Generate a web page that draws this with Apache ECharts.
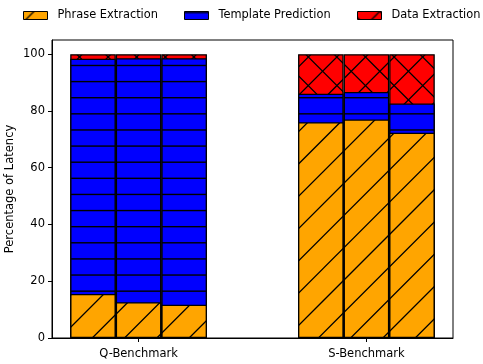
<!DOCTYPE html>
<html><head><meta charset="utf-8">
<script src="https://cdn.jsdelivr.net/npm/echarts@6/dist/echarts.min.js"></script>
<style>html,body{margin:0;padding:0;background:#fff}#c{width:483px;height:364px}</style>
</head><body><div id="c"></div>
<script>
// ---- data ----
const groups = ['Q-Benchmark', 'S-Benchmark'];
const groupPos = [0, 1];
const barOffsets = [-0.2, 0, 0.2];
const components = ['Phrase Extraction', 'Template Prediction', 'Data Extraction'];
const phraseQ = [15.5, 12.6, 11.7];
const templateQ = [82.9, 86.0, 86.9];
const dataQ = [1.6, 1.4, 1.4];
const phraseS = [76.0, 77.0, 72.3];
const templateS = [10.1, 9.7, 10.3];
const dataS = [13.9, 13.3, 17.4];
const yTicks = [0, 20, 40, 60, 80, 100];

// ---- hatch patterns ----
function makeTile(w, h, bg, draw) {
  const c = document.createElement('canvas');
  c.width = w; c.height = h;
  const g = c.getContext('2d');
  g.fillStyle = bg; g.fillRect(0, 0, w, h);
  g.strokeStyle = '#000'; g.fillStyle = '#000'; g.lineWidth = 1.3;
  draw(g, w, h);
  return { image: c, repeat: 'repeat' };
}
function diagUp(g, S, P, c0) { // lines x+y = c
  g.beginPath();
  for (let k = -2; k <= Math.ceil(2 * S / P) + 2; k++) {
    const c = c0 + k * P;
    g.moveTo(c + 10, -10); g.lineTo(-10, c + 10);
  }
  g.stroke();
}
function diagDown(g, S, P, d0) { // lines x-y = d
  g.beginPath();
  for (let k = -Math.ceil(S / P) - 2; k <= Math.ceil(S / P) + 2; k++) {
    const d = d0 + k * P;
    g.moveTo(-10, -10 - d); g.lineTo(S + 10, S + 10 - d);
  }
  g.stroke();
}
const P1 = 32.3, S1 = 323;
const orangePat = makeTile(S1, S1, '#ffa500', (g) => diagUp(g, S1, P1, 10.3));
const P2 = 16.12, S2 = 403;
const bluePat = makeTile(8, S2, '#0000ff', (g) => {
  for (let k = 0; k < 25; k++) g.fillRect(0, 1 + k * P2 - 0.7, 8, 1.4);
});
const P3 = 28.6, S3 = 286;
const redPat = makeTile(S3, S3, '#ff0000', (g) => { diagUp(g, S3, P3, 22.1); diagDown(g, S3, P3, 22.5); });

// cumulative tops built from the arrays
const vals = {
  'Phrase Extraction': [phraseQ, phraseS],
  'Template Prediction': [templateQ, templateS],
  'Data Extraction': [dataQ, dataS]
};
const pats = { 'Phrase Extraction': orangePat, 'Template Prediction': bluePat, 'Data Extraction': redPat };

const series = [];
// draw from top segment down so lower segments overlay (stacked look)
for (let ci = components.length - 1; ci >= 0; ci--) {
  const name = components[ci];
  for (let bi = 0; bi < 3; bi++) {
    const data = groupPos.map((gp, gi) => {
      let top = 0;
      for (let j = 0; j <= ci; j++) top += vals[components[j]][gi][bi];
      return [gp + barOffsets[bi], +top.toFixed(3)];
    });
    series.push({
      type: 'bar', name: name, data: data,
      barWidth: 45.6, barGap: '-100%',
      itemStyle: { color: pats[name], borderColor: '#000', borderWidth: 1.3 },
      emphasis: { disabled: true }, silent: true, animation: false
    });
  }
}

const font = 'DejaVu Sans';
const legendPos = [23, 184, 357];
const chart = echarts.init(document.getElementById('c'), null, { renderer: 'canvas' });
chart.setOption({
  animation: false,
  textStyle: { fontFamily: font },
  legend: components.map((n, i) => ({
    data: [n], left: legendPos[i], top: 10, icon: 'rect', padding: 0,
    itemWidth: 24, itemHeight: 8, selectedMode: false,
    textStyle: { fontFamily: font, fontSize: 11.4, color: '#000', padding: [0, 0, 0, 5] },
    itemStyle: { borderColor: '#000', borderWidth: 1 }
  })),
  grid: { left: 52, right: 30, top: 40, bottom: 26, show: true, borderColor: '#000', borderWidth: 1,
    backgroundColor: 'transparent', containLabel: false, outerBoundsMode: 'none' },
  xAxis: {
    type: 'value', min: -0.38, max: 1.38,
    splitLine: { show: false },
    axisLine: { show: true, onZero: false, lineStyle: { color: '#000', width: 1 } },
    axisTick: { show: true, customValues: groupPos, length: 4, lineStyle: { color: '#000' } },
    axisLabel: { customValues: groupPos, formatter: (v) => groups[groupPos.indexOf(Math.round(v))] || '',
      fontFamily: font, fontSize: 11.5, color: '#000', margin: 10 }
  },
  yAxis: {
    type: 'value', min: 0, max: 105,
    name: 'Percentage of Latency', nameLocation: 'middle', nameGap: 36, nameMoveOverlap: false,
    nameTextStyle: { fontFamily: font, fontSize: 11.5, color: '#000' },
    splitLine: { show: false },
    axisLine: { show: true, onZero: false, lineStyle: { color: '#000', width: 1 } },
    axisTick: { show: true, customValues: yTicks, length: 4, lineStyle: { color: '#000' } },
    axisLabel: { customValues: yTicks, fontFamily: font, fontSize: 11.5, color: '#000', margin: 7 }
  },
  series: series
});
</script>
</body></html>
